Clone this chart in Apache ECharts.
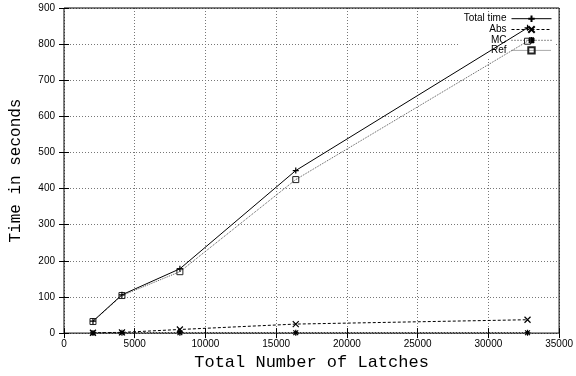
<!DOCTYPE html>
<html><head><meta charset="utf-8">
<script src="https://cdn.jsdelivr.net/npm/echarts@6/dist/echarts.min.js"></script>
<style>html,body{margin:0;padding:0;background:#fff}#c{width:576px;height:376px}</style>
</head><body><div id="c"></div>
<script>
const latches = [2048, 4096, 8192, 16384, 32768];
const totalTime = [33, 106, 178, 450, 845];
const absTime = [1, 2, 10, 25, 37];
const mcTime = [0.5, 1, 1, 1, 1];
const refTime = [32, 104, 170, 425, 808];
const seriesNames = ['Total time', 'Abs', 'MC', 'Ref'];

const pair = v => latches.map((x, i) => [x, v[i]]);
const PLUS = 'path://M0,5L10,5M5,0L5,10';
const CROSS = 'path://M0,0L10,10M10,0L0,10';
const STAR = 'path://M0,5L10,5M5,0L5,10M1,1L9,9M9,1L1,9';
const tickFont = {fontFamily: 'Liberation Sans', fontSize: 10, color: '#000'};
const split = {show: true, lineStyle: {color: '#777', type: [1, 2], width: 1}};

const chart = echarts.init(document.getElementById('c'));
chart.setOption({
  animation: false,
  grid: {left: 62, right: 15, top: 8, bottom: 35, show: true, borderColor: '#000', borderWidth: 1, z: 5},
  legend: {
    data: seriesNames, orient: 'vertical', right: 22, top: 12, align: 'right',
    itemWidth: 40, itemHeight: 8, itemGap: -0.6, padding: [1, 2, 3, 4],
    backgroundColor: '#fff', z: 1,
    lineStyle: {width: 1},
    textStyle: {fontFamily: 'Liberation Sans', fontSize: 10, color: '#000', lineHeight: 8, padding: [0, 0, 0, 0]}
  },
  xAxis: [{
    type: 'value', min: 0, max: 35000, interval: 5000,
    name: 'Total Number of Latches', nameLocation: 'middle', nameGap: 18,
    nameTextStyle: {fontFamily: 'Liberation Mono', fontSize: 17, color: '#000'},
    axisLine: {show: false}, axisTick: {show: true, inside: true, length: 5, lineStyle: {color: '#000'}},
    axisLabel: Object.assign({margin: 6, formatter: v => String(v)}, tickFont), splitLine: split
  }, {
    type: 'value', position: 'top', min: 0, max: 35000, interval: 5000,
    axisLine: {show: false}, axisTick: {show: true, inside: true, length: 5, lineStyle: {color: '#000'}},
    axisLabel: {show: false}, splitLine: {show: false}
  }],
  yAxis: [{
    type: 'value', min: 0, max: 900, interval: 100,
    name: 'Time in seconds', nameLocation: 'middle', nameGap: 40,
    nameTextStyle: {fontFamily: 'Liberation Mono', fontSize: 16, color: '#000'},
    axisLine: {show: false}, axisTick: {show: true, inside: true, length: 5, lineStyle: {color: '#000'}},
    axisLabel: Object.assign({margin: 9, formatter: v => String(v)}, tickFont), splitLine: split
  }, {
    type: 'value', position: 'right', min: 0, max: 900, interval: 100,
    axisLine: {show: false}, axisTick: {show: true, inside: true, length: 5, lineStyle: {color: '#000'}},
    axisLabel: {show: false}, splitLine: {show: false}
  }],
  series: [
    {name: seriesNames[0], type: 'line', data: pair(totalTime), z: 4,
     symbol: PLUS, symbolSize: 6,
     lineStyle: {color: '#000', width: 1}, itemStyle: {color: 'none', borderColor: '#000', borderWidth: 1.2}},
    {name: seriesNames[1], type: 'line', data: pair(absTime), z: 3,
     symbol: CROSS, symbolSize: 6,
     lineStyle: {color: '#000', width: 1, type: [3, 2]}, itemStyle: {color: 'none', borderColor: '#000', borderWidth: 1.2}},
    {name: seriesNames[2], type: 'line', data: pair(mcTime), z: 3,
     symbol: STAR, symbolSize: 6,
     lineStyle: {color: '#222', width: 1, type: [1, 2]}, itemStyle: {color: 'none', borderColor: '#000', borderWidth: 1.2}},
    {name: seriesNames[3], type: 'line', data: pair(refTime), z: 3,
     symbol: 'rect', symbolSize: 6,
     lineStyle: {color: '#555', width: 1, type: [1, 1]}, itemStyle: {color: 'rgba(255,255,255,0)', borderColor: '#222', borderWidth: 1}}
  ]
});
</script></body></html>
